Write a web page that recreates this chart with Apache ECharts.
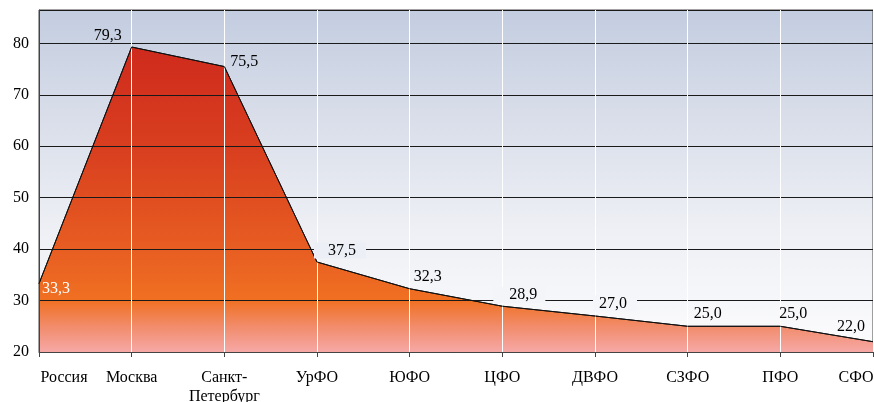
<!DOCTYPE html>
<html><head><meta charset="utf-8">
<script src="https://cdn.jsdelivr.net/npm/echarts@6/dist/echarts.min.js"></script>
<style>html,body{margin:0;padding:0;background:#fff}#c{width:874px;height:402px}</style>
</head><body><div id="c"></div>
<script>
var categories = ['Россия','Москва','Санкт-\nПетербург','УрФО','ЮФО','ЦФО','ДВФО','СЗФО','ПФО','СФО'];
var values = [33.3,79.3,75.5,37.5,32.3,28.9,27.0,25.0,25.0,22.0];
var yTicks = [20,30,40,50,60,70,80];

// label placement (style only)
var labelOffsets = [[17,19],[-24,2],[20,9],[23,2],[18,2],[17,2],[20,1],[20,1],[13,1],[-22,-1]];
var labelBg = [null,null,null,'#eceff5',null,'#f4f5f9','#f5f6f9',null,null,null];
var labelPad = [0,0,0,[0,10,0,14],0,[0,8,0,16],[0,10,0,6],0,0,0];
var labelColor = ['#fff','#000','#000','#000','#000','#000','#000','#000','#000','#000'];

var FONT = '"Liberation Serif", "Times New Roman", serif';
var fmt = function(v){ return v.toFixed(1).replace('.', ','); };

var labelData = values.map(function(v,i){
  return {
    value: v,
    label: {
      show: true, position: 'top', distance: 5,
      offset: labelOffsets[i],
      color: labelColor[i],
      backgroundColor: labelBg[i] || 'transparent',
      padding: labelPad[i],
      fontFamily: FONT, fontSize: 16,
      formatter: function(p){ return fmt(p.value); }
    }
  };
});

var chart = echarts.init(document.getElementById('c'));
chart.setOption({
  animation: false,
  grid: {
    left: 39, right: 1, top: 10, bottom: 50, outerBoundsMode: 'none', containLabel: false,
    show: true, borderColor: '#444', borderWidth: 1,
    backgroundColor: new echarts.graphic.LinearGradient(0,0,0,1,[
      {offset:0, color:'#c3cde0'},
      {offset:0.3, color:'#d8dde9'},
      {offset:0.65, color:'#eef0f5'},
      {offset:1, color:'#fcfcfd'}
    ])
  },
  xAxis: {
    type: 'category', data: categories, boundaryGap: false, z: 5,
    axisLine: { lineStyle: { color: '#444', width: 1 } },
    axisTick: { show: true, length: 5, lineStyle: { color: '#444' } },
    splitLine: { show: true, lineStyle: { color: '#ffffff', width: 1 } },
    axisLabel: {
      interval: 0, margin: 16, color: '#000', fontFamily: FONT, fontSize: 16, lineHeight: 19,
      formatter: function(v, i){
        if (i === 0) return '{l|' + v + '}';
        if (i === categories.length - 1) return '{r|' + v + '}';
        return v;
      },
      rich: {
        l: { padding: [0,0,0,50], fontFamily: FONT, fontSize: 16, color: '#000' },
        r: { padding: [0,34,0,0], fontFamily: FONT, fontSize: 16, color: '#000' }
      }
    }
  },
  yAxis: {
    type: 'value', min: 20, max: 86.5, interval: 10, z: 5,
    axisLine: { show: true, lineStyle: { color: '#444' } },
    axisTick: { show: false },
    splitLine: { show: true, lineStyle: { color: '#1a1a1a', width: 1 } },
    axisLabel: {
      margin: 10, color: '#000', fontFamily: FONT, fontSize: 16,
      formatter: function(v){ return yTicks.indexOf(v) >= 0 ? String(v) : ''; }
    }
  },
  series: [
    {
      type: 'line', data: values, symbol: 'none', z: 2,
      lineStyle: { color: '#111', width: 1 },
      areaStyle: {
        opacity: 1,
        color: new echarts.graphic.LinearGradient(0,0,0,1,[
          {offset:0, color:'#cf2a1d'},
          {offset:0.35, color:'#d9401f'},
          {offset:0.67, color:'#e85e22'},
          {offset:0.83, color:'#f07022'},
          {offset:0.92, color:'#f28d6e'},
          {offset:1, color:'#f6a8a6'}
        ])
      }
    },
    {
      type: 'line', data: values, symbol: 'none', z: 10,
      lineStyle: { color: '#111', width: 1 }
    },
    {
      type: 'line', data: labelData, symbol: 'circle', symbolSize: 1, showSymbol: true, z: 20,
      itemStyle: { color: 'rgba(0,0,0,0)', borderWidth: 0 }, lineStyle: { width: 0, color: 'rgba(0,0,0,0)' }
    }
  ]
});
</script></body></html>
